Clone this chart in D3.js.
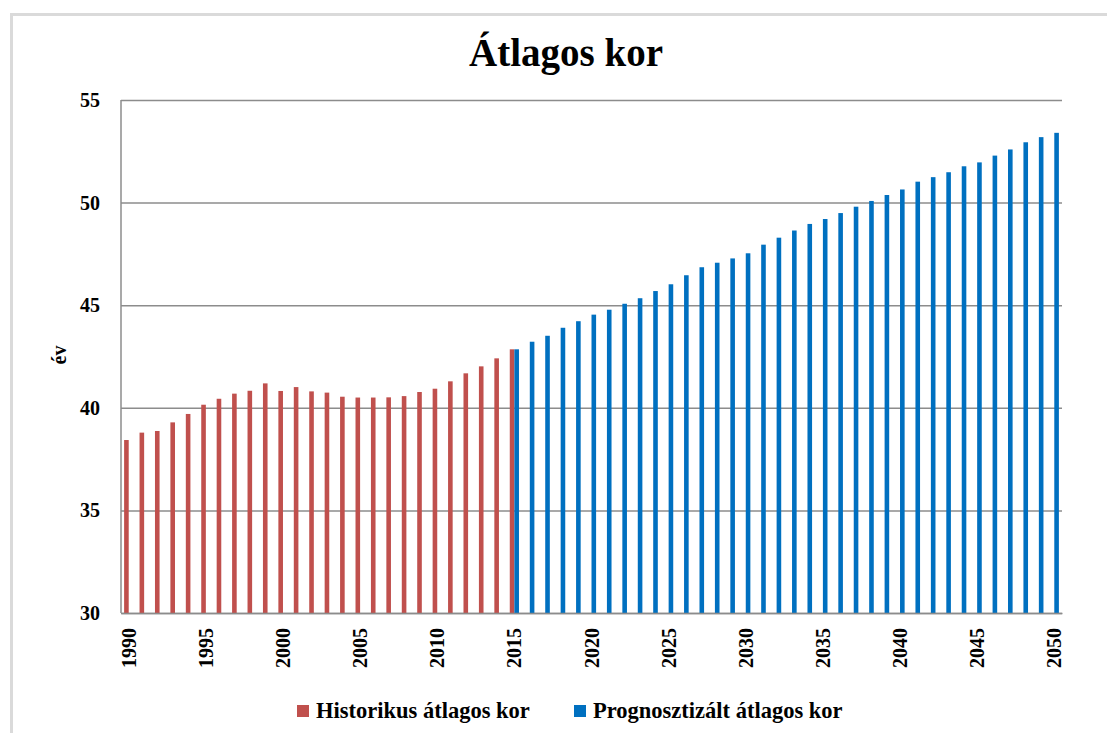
<!DOCTYPE html>
<html>
<head>
<meta charset="utf-8">
<script src="https://cdn.jsdelivr.net/npm/d3@7"></script>
<style>
  html, body { margin: 0; padding: 0; background: #ffffff; }
  svg { display: block; }
  text { font-family: "Liberation Serif", "DejaVu Serif", serif; font-weight: bold; fill: #000; }
</style>
</head>
<body>
<svg id="chart" width="1107" height="733"></svg>
<script>
// ---- Data ----
const years = [
  "1990","1991","1992","1993","1994","1995","1996","1997","1998","1999",
  "2000","2001","2002","2003","2004","2005","2006","2007","2008","2009",
  "2010","2011","2012","2013","2014","2015","2016","2017","2018","2019",
  "2020","2021","2022","2023","2024","2025","2026","2027","2028","2029",
  "2030","2031","2032","2033","2034","2035","2036","2037","2038","2039",
  "2040","2041","2042","2043","2044","2045","2046","2047","2048","2049","2050"
];
const historicYears = [
  "1990","1991","1992","1993","1994","1995","1996","1997","1998","1999",
  "2000","2001","2002","2003","2004","2005","2006","2007","2008","2009",
  "2010","2011","2012","2013","2014","2015"
];
const historicValues = [
  38.43, 38.79, 38.87, 39.29, 39.70, 40.15, 40.44, 40.69, 40.83, 41.19,
  40.82, 41.01, 40.80, 40.74, 40.54, 40.50, 40.50, 40.51, 40.57, 40.77,
  40.93, 41.29, 41.68, 42.02, 42.41, 42.85
];
const forecastYears = [
  "2015","2016","2017","2018","2019","2020","2021","2022","2023","2024",
  "2025","2026","2027","2028","2029","2030","2031","2032","2033","2034",
  "2035","2036","2037","2038","2039","2040","2041","2042","2043","2044",
  "2045","2046","2047","2048","2049","2050"
];
const forecastValues = [
  42.85, 43.22, 43.51, 43.90, 44.22, 44.54, 44.78, 45.07, 45.34, 45.69,
  46.02, 46.46, 46.85, 47.07, 47.28, 47.53, 47.95, 48.29, 48.64, 48.96,
  49.20, 49.49, 49.80, 50.08, 50.37, 50.64, 51.02, 51.24, 51.48, 51.77,
  51.96, 52.29, 52.59, 52.94, 53.19, 53.40
];
const seriesNames = ["Historikus átlagos kor", "Prognosztizált átlagos kor"];
const seriesColors = ["#C0504D", "#0070C0"];
const xTickLabels = ["1990","1995","2000","2005","2010","2015","2020","2025","2030","2035","2040","2045","2050"];
const yTicks = [30, 35, 40, 45, 50, 55];
const title = "Átlagos kor";
const yLabel = "év";

// ---- Layout ----
const svg = d3.select("#chart");
const plot = { left: 121, right: 1062, top: 100, bottom: 613 };

// outer frame
svg.append("rect")
  .attr("x", 11.5).attr("y", 14.5)
  .attr("width", 1200).attr("height", 800)
  .attr("fill", "#ffffff")
  .attr("stroke", "#dadada").attr("stroke-width", 3);

const x0 = d3.scaleBand().domain(years).range([plot.left, plot.right]).paddingInner(0).paddingOuter(0);
const barW = 4.6;
const x1 = d3.scaleBand().domain(seriesNames)
  .range([x0.bandwidth() / 2 - barW, x0.bandwidth() / 2 + barW]).padding(0);
const y = d3.scaleLinear().domain([30, 55]).range([plot.bottom, plot.top]);

// gridlines
const gridAxis = d3.axisLeft(y).tickValues(yTicks).tickSize(-(plot.right - plot.left)).tickFormat("");
const grid = svg.append("g").attr("transform", `translate(${plot.left},0)`).call(gridAxis);
grid.select(".domain").remove();
grid.selectAll("line").attr("stroke", "#8c8c8c").attr("stroke-width", 1.5);

// y tick labels
const yAxis = d3.axisLeft(y).tickValues(yTicks).tickSize(0).tickPadding(21).tickFormat(d3.format("d"));
const yg = svg.append("g").attr("transform", `translate(${plot.left},0)`).call(yAxis);
yg.select(".domain").remove();
yg.selectAll("text")
  .style("font-family", "'Liberation Serif', serif")
  .style("font-weight", "bold")
  .style("font-size", "20px")
  .attr("fill", "#000");

// bars
const seriesData = [
  { name: seriesNames[0], color: seriesColors[0], years: historicYears, values: historicValues },
  { name: seriesNames[1], color: seriesColors[1], years: forecastYears, values: forecastValues }
];
seriesData.forEach(s => {
  svg.append("g").selectAll("rect")
    .data(s.years.map((yr, i) => ({ yr, v: s.values[i] })))
    .join("rect")
    .attr("x", d => x0(d.yr) + x1(s.name))
    .attr("width", x1.bandwidth())
    .attr("y", d => y(d.v))
    .attr("height", d => y(30) - y(d.v))
    .attr("fill", s.color);
});

// left axis line
svg.append("line")
  .attr("x1", plot.left).attr("x2", plot.left)
  .attr("y1", plot.top).attr("y2", plot.bottom)
  .attr("stroke", "#8c8c8c").attr("stroke-width", 1.5);

// x axis
const xAxis = d3.axisBottom(x0).tickValues(xTickLabels).tickSize(0).tickPadding(0);
const xg = svg.append("g").attr("transform", `translate(0,${plot.bottom})`).call(xAxis);
xg.select(".domain").attr("stroke", "#8c8c8c").attr("stroke-width", 1.5);
xg.selectAll("text")
  .style("font-family", "'Liberation Serif', serif")
  .style("font-weight", "bold")
  .style("font-size", "20px")
  .attr("fill", "#000")
  .attr("text-anchor", "end")
  .attr("dy", "0.35em")
  .attr("transform", "translate(0,15) rotate(-90)");
xg.selectAll("text").attr("x", 0).attr("y", 0);

// title
svg.append("text")
  .attr("x", 566).attr("y", 66)
  .attr("text-anchor", "middle")
  .style("font-size", "39px")
  .text(title);

// y label
svg.append("text")
  .attr("transform", "translate(66,355) rotate(-90)")
  .attr("text-anchor", "middle")
  .style("font-size", "20px")
  .text(yLabel);

// legend
const legendItems = [
  { name: seriesNames[0], color: seriesColors[0], x: 297 },
  { name: seriesNames[1], color: seriesColors[1], x: 574 }
];
const lg = svg.append("g");
legendItems.forEach(it => {
  lg.append("rect").attr("x", it.x).attr("y", 705).attr("width", 12).attr("height", 12).attr("fill", it.color);
  lg.append("text").attr("x", it.x + 19).attr("y", 718).style("font-size", "22.5px").text(it.name);
});
</script>
</body>
</html>
